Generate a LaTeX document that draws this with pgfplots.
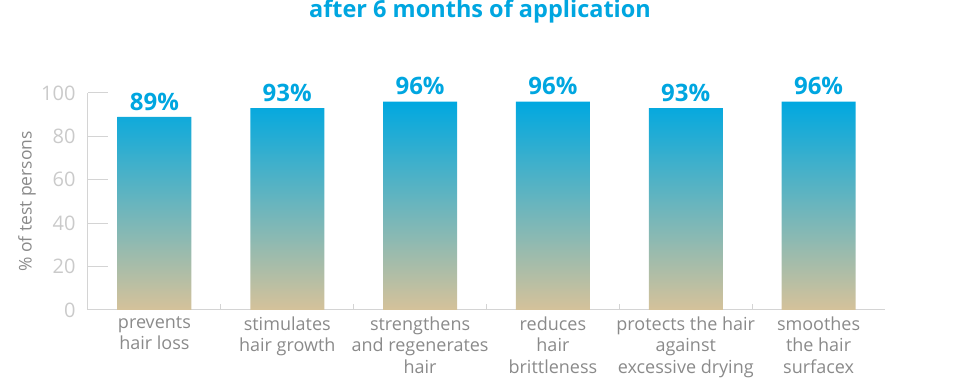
\documentclass[border=0pt]{standalone}
\usepackage{fontspec}
\setmainfont{Open Sans}
\usepackage{pgfplots}
\pgfplotsset{compat=1.18}
\definecolor{tblue}{HTML}{00A6E0}
\definecolor{btop}{HTML}{00A8E0}
\definecolor{bmid}{HTML}{5AAFC6}
\definecolor{bbot}{HTML}{D5C29A}
\definecolor{axgray}{HTML}{D4D4D4}
\definecolor{ticklab}{HTML}{CACACA}
\definecolor{labgray}{HTML}{8A8A8A}
\begin{document}
\begin{tikzpicture}
\path[use as bounding box] (-88pt,-72pt) rectangle (872pt,310pt);
\begin{axis}[
  at={(0pt,0pt)}, anchor=south west,
  scale only axis, width=797pt, height=217pt,
  xmin=-0.5, xmax=5.5, ymin=0, ymax=100,
  axis x line*=bottom, axis y line*=left,
  axis line style={axgray, line width=1pt},
  ybar, bar width=74pt,
  xtick={0,...,5},
  xticklabels={prevents\\hair loss, stimulates\\hair growth, strengthens\\and regenerates\\hair, reduces\\hair\\brittleness, protects the hair\\against\\excessive drying, smoothes\\the hair\\surfacex},
  xticklabel style={align=center, font=\fontsize{18}{21.5}\selectfont, text=labgray, yshift=-3pt},
  major x tick style={draw=none},
  minor xtick={0.5,1.5,2.5,3.5,4.5},
  minor x tick style={axgray, line width=1pt},
  minor tick length=6pt,
  ytick={0,20,...,100},
  y tick style={axgray, line width=1pt},
  major tick length=20pt,
  tick align=inside,
  yticklabel style={font=\fontsize{20}{24}\selectfont, text=ticklab, xshift=-9pt},
  /pgf/number format/assume math mode=true,
  ylabel={\% of test persons},
  every axis y label/.style={at={([xshift=-61pt]axis description cs:0,0.5)}, rotate=90, anchor=center, font=\fontsize{17.5}{21}\selectfont, text=labgray},
  nodes near coords={\pgfmathprintnumber{\pgfplotspointmeta}\%},
  every node near coord/.append style={font=\bfseries\fontsize{24}{28}\selectfont, text=tblue, yshift=3pt},
  clip=false,
]
\addplot[draw=none, top color=btop, middle color=bmid, bottom color=bbot] coordinates {(0,89) (1,93) (2,96) (3,96) (4,93) (5,96)};
\end{axis}
\node[font=\bfseries\fontsize{23.5}{27}\selectfont, text=tblue] at (392pt,299pt) {after 6 months of application};
\end{tikzpicture}
\end{document}
